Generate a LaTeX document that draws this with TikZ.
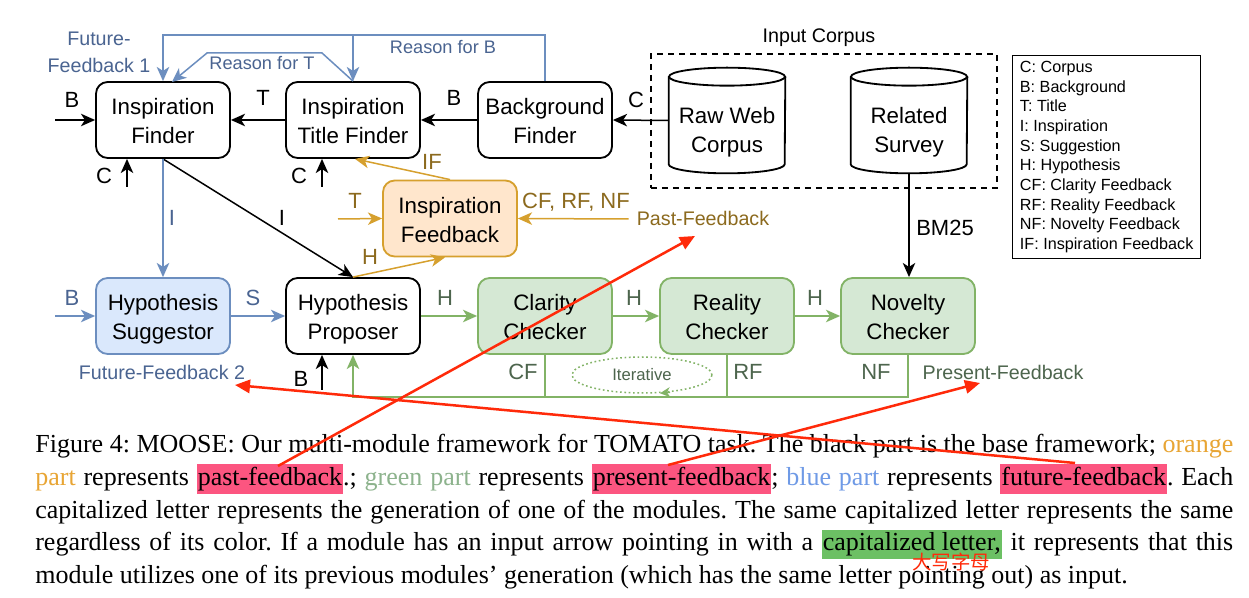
\documentclass[tikz,border=0pt]{standalone}
\usepackage{fontspec}
\setmainfont{Liberation Serif}
\newfontfamily\arial{Liberation Sans}
\newfontfamily\cjk{Noto Sans CJK SC}
\usetikzlibrary{arrows.meta,shapes.geometric,calc}
\definecolor{bluel}{HTML}{6C8EBF}
\definecolor{bluefill}{HTML}{DAE8FC}
\definecolor{bluet}{HTML}{4A6491}
\definecolor{orl}{HTML}{D6A02E}
\definecolor{orfill}{HTML}{FFE6CC}
\definecolor{ort}{HTML}{8C6A1E}
\definecolor{grl}{HTML}{82B366}
\definecolor{grfill}{HTML}{D5E8D4}
\definecolor{grt}{HTML}{4D654D}
\definecolor{capor}{HTML}{E8A534}
\definecolor{capgr}{HTML}{8DB38D}
\definecolor{capbl}{HTML}{6F9AE6}
\definecolor{hlpink}{HTML}{FC5580}
\definecolor{hlgreen}{HTML}{6CC064}
\definecolor{redann}{HTML}{FF2A0A}
\newcommand\fsnode{\arial\fontsize{13.4pt}{17.4pt}\selectfont}
\newcommand\fslab{\arial\fontsize{13.2pt}{16pt}\selectfont}
\newcommand\fssmall{\arial\fontsize{11.8pt}{16.2pt}\selectfont}
\newcommand\fsreason{\arial\fontsize{10.9pt}{13pt}\selectfont}
\newcommand\fslegend{\arial\fontsize{9.7pt}{11.8pt}\selectfont}
\newcommand\fsiter{\arial\fontsize{10pt}{12pt}\selectfont}
\newcommand\fscap{\frenchspacing\fontsize{15.6pt}{19.5pt}\selectfont}
\newcommand\hlp[1]{{\setlength{\fboxsep}{0.6pt}\colorbox{hlpink}{\rule[-4.4pt]{0pt}{16.4pt}#1}}}
\newcommand\hlg[1]{{\setlength{\fboxsep}{0.6pt}\colorbox{hlgreen}{\rule[-4.4pt]{0pt}{16.4pt}#1}}}
\newcommand\drawcyl[1]{%
  \draw[line width=1.1pt, fill=white] ($(#1.north west)+(0,9)$) -- ($(#1.south west)+(0,-9)$)
    arc[start angle=180,end angle=360,x radius=34.8pt,y radius=5.4pt] -- ($(#1.north east)+(0,9)$);
  \draw[line width=1.1pt, fill=white] ($(#1.north)+(0,9)$) ellipse[x radius=34.8pt, y radius=5.4pt];}
\begin{document}
\begin{tikzpicture}[x=0.6pt,y=-0.6pt,
  box/.style={draw, line width=1.1pt, rounded corners=7pt, minimum width=80.4pt, minimum height=45.6pt, align=center, font=\fsnode, inner sep=0pt, fill=white, text height=28.8pt, text depth=0pt},
  bbox/.style={box, draw=bluel, fill=bluefill},
  gbox/.style={box, draw=grl, fill=grfill},
  obox/.style={box, draw=orl, fill=orfill},
  lab/.style={font=\fslab, inner sep=0pt},
  arr/.style={line width=0.9pt, -{Stealth[length=8.5pt,width=7.5pt,inset=2.4pt]}},
  barr/.style={arr, draw=bluel},
  oarr/.style={arr, draw=orl},
  garr/.style={arr, draw=grl},
  gline/.style={line width=0.9pt, draw=grl},
  redarr/.style={line width=1.5pt, draw=redann, -{Triangle[length=9pt,width=8pt]}},
  capline/.style={anchor=base west, inner sep=0pt, font=\fscap}
]
\fill[white] (0,0) rectangle (1249,598);
\useasboundingbox (0,0) rectangle (1249,598);

% ---- boxes ----
\node[box] (insF) at (163,120) {Inspiration\\Finder};
\node[box] (titF) at (353,120) {Inspiration\\Title Finder};
\node[box] (bgF) at (545,120) {Background\\Finder};
\node[obox] (insFb) at (450,218.5) {Inspiration\\Feedback};
\node[bbox] (hypS) at (163,316) {Hypothesis\\Suggestor};
\node[box] (hypP) at (353,316) {Hypothesis\\Proposer};
\node[gbox] (clar) at (545,316) {Clarity\\Checker};
\node[gbox] (real) at (727,316) {Reality\\Checker};
\node[gbox] (nov) at (908,316) {Novelty\\Checker};

% ---- input corpus ----
\node[draw, line width=1pt, dash pattern=on 3.6pt off 3pt, anchor=north west, minimum width=207.6pt, minimum height=80.4pt, inner sep=0pt] (incorp) at (650,53) {};
\node[font=\fssmall, inner sep=0pt] (incorpt) at (819,38) {Input Corpus};
\node[minimum width=69.6pt, minimum height=63pt, inner sep=0pt] (raw) at (727,120.5) {};
\drawcyl{raw}
\node[font=\fsnode, align=center, inner sep=0pt] (rawt) at (727,132.5) {Raw Web\\Corpus};
\node[minimum width=69.6pt, minimum height=63pt, inner sep=0pt] (rel) at (909,120.5) {};
\drawcyl{rel}
\node[font=\fsnode, align=center, inner sep=0pt] (relt) at (909,132.5) {Related\\Survey};

% ---- legend ----
\node[draw, line width=0.8pt, anchor=north west, minimum width=112.8pt, minimum height=121.8pt, align=left, font=\fslegend, inner sep=0pt] (legend) at (1012,55) {C: Corpus\\B: Background\\T: Title\\I: Inspiration\\S: Suggestion\\H: Hypothesis\\CF: Clarity Feedback\\RF: Reality Feedback\\NF: Novelty Feedback\\IF: Inspiration Feedback};

% ---- black connectors ----
\coordinate (bin1) at (55,120);
\draw[arr] (bin1) -- (insF.west);
\draw[arr] (titF.west) -- (insF.east);
\draw[arr] (bgF.west) -- (titF.east);
\draw[arr] (raw.west) -- (bgF.east);
\coordinate (cin1) at (127,187);
\draw[arr] (cin1) -- (cin1 |- insF.south);
\coordinate (cin2) at (322,187);
\draw[arr] (cin2) -- (cin2 |- titF.south);
\draw[arr] (insF.south) -- (hypP.north);
\draw[arr] (rel.south) -- (rel.south |- nov.north);
\coordinate (bin3) at (322,390);
\draw[arr] (bin3) -- (bin3 |- hypP.south);

\node[lab] (lb1) at (72,100) {B};
\node[lab] (lt1) at (263,98) {T};
\node[lab] (lb2) at (454,98) {B};
\node[lab] (lc1) at (636,100) {C};
\node[lab] (lc2) at (104,176) {C};
\node[lab] (lc3) at (299,176) {C};
\node[lab] (li1) at (282,218) {I};
\node[lab] (lbm) at (945,228) {BM25};
\node[lab] (lb3) at (301,379) {B};

% ---- blue connectors ----
\coordinate (ytop) at (0,35);
\draw[barr] (bgF.north) |- (ytop -| insF.north) -- (insF.north);
\draw[barr] (ytop -| titF.north) -- (titF.north);
\coordinate (rt1) at (322,53);
\coordinate (rt2) at (207,53);
\coordinate (rt3) at (172,82);
\draw[barr] (titF.north) -- (rt1) -- (rt2) -- (rt3);
\draw[barr] (insF.south) -- (hypS.north);
\coordinate (bin2) at (55,316);
\draw[barr] (bin2) -- (hypS.west);
\draw[barr] (hypS.east) -- (hypP.west);

\node[font=\fssmall, text=bluet, align=center, inner sep=0pt] (ff1) at (99,52) {Future-\\Feedback 1};
\node[font=\fsreason, text=bluet, inner sep=0pt] (rsT) at (262,63) {Reason for T};
\node[font=\fsreason, text=bluet, inner sep=0pt] (rsB) at (443,47) {Reason for B};
\node[font=\fssmall, text=bluet, inner sep=0pt] (ff2) at (162,372) {Future-Feedback 2};
\node[lab, text=bluet] (li2) at (172,218) {I};
\node[lab, text=bluet] (lb4) at (72,298) {B};
\node[lab, text=bluet] (ls1) at (253,298) {S};

% ---- orange connectors ----
\draw[oarr] (insFb.north) -- ($(titF.south)+(2,0)$);
\coordinate (tin) at (338,219);
\draw[oarr] (tin) -- (insFb.west);
\draw[oarr] (hypP.north) -- ($(insFb.south)+(-5,0)$);
\node[font=\fssmall, text=ort, inner sep=0pt] (pastfb) at (703,218) {Past-Feedback};
\draw[oarr] ($(pastfb.west)+(-8,1)$) -- (insFb.east);
\node[lab, text=ort] (lif) at (432,162) {IF};
\node[lab, text=ort] (lt2) at (355,201) {T};
\node[lab, text=ort] (lh1) at (370,257) {H};
\node[lab, text=ort] (lcrn) at (576,202) {CF, RF, NF};

% ---- green connectors ----
\draw[garr] (hypP.east) -- (clar.west);
\draw[garr] (clar.east) -- (real.west);
\draw[garr] (real.east) -- (nov.west);
\coordinate (ybot) at (0,397);
\draw[garr] (nov.south) |- (ybot -| hypP.south) -- (hypP.south);
\draw[gline] (clar.south) -- (clar.south |- ybot);
\draw[gline] (real.south) -- (real.south |- ybot);
\node[draw=grl, line width=0.9pt, dash pattern=on 1pt off 1.6pt, ellipse, minimum width=84pt, minimum height=21.6pt, inner sep=0pt, font=\fsiter, text=grt] (iter) at (642,375) {Iterative};
\draw[line width=0.9pt, draw=grl, -{Stealth[length=6pt,width=6pt,inset=1.8pt]}] ($(iter.south)+(28,-1.5)$) -- ($(iter.south)+(18,-0.5)$);
\node[lab, text=grt] (lh2) at (445,298) {H};
\node[lab, text=grt] (lh3) at (634,298) {H};
\node[lab, text=grt] (lh4) at (815,298) {H};
\node[lab, text=grt] (lcf) at (523,372) {CF};
\node[lab, text=grt] (lrf) at (748,372) {RF};
\node[lab, text=grt] (lnf) at (876,372) {NF};
\node[font=\fssmall, text=grt, inner sep=0pt] (presfb) at (1003,372) {Present-Feedback};

% ---- caption ----
\node[capline] (cap1) at (35,453) {\makebox[718.8pt][s]{Figure 4: MOOSE: Our multi-module framework for TOMATO task. The black part is the base framework; \textcolor{capor}{orange}}};
\node[capline] (cap2) at (35,485.5) {\makebox[718.8pt][s]{\textcolor{capor}{part} represents \hlp{past-feedback}.; \textcolor{capgr}{green part} represents \hlp{present-feedback}; \textcolor{capbl}{blue part} represents \hlp{future-feedback}. Each}};
\node[capline] (cap3) at (35,518) {\makebox[718.8pt][s]{capitalized letter represents the generation of one of the modules. The same capitalized letter represents the same}};
\node[capline] (cap4) at (35,550.5) {\makebox[718.8pt][s]{regardless of its color. If a module has an input arrow pointing in with a \hlg{capitalized letter,} it represents that this}};
\node[capline] (cap5) at (35,583) {module utilizes one of its previous modules' generation (which has the same letter pointing out) as input.};
\node[font={\cjk\fontsize{11.7pt}{14pt}\selectfont}, text=redann, inner sep=0pt] (zh) at (951,562) {大写字母};

% ---- red annotation arrows ----
\coordinate (r1s) at (278,466);
\coordinate (r1e) at (695,236);
\coordinate (r2s) at (668,465);
\coordinate (r2e) at (980,383);
\coordinate (r3s) at (1075,463);
\coordinate (r3e) at (235,385);
\draw[redarr] (r1s) -- (r1e);
\draw[redarr] (r2s) -- (r2e);
\draw[redarr] (r3s) -- (r3e);
\end{tikzpicture}
\end{document}
